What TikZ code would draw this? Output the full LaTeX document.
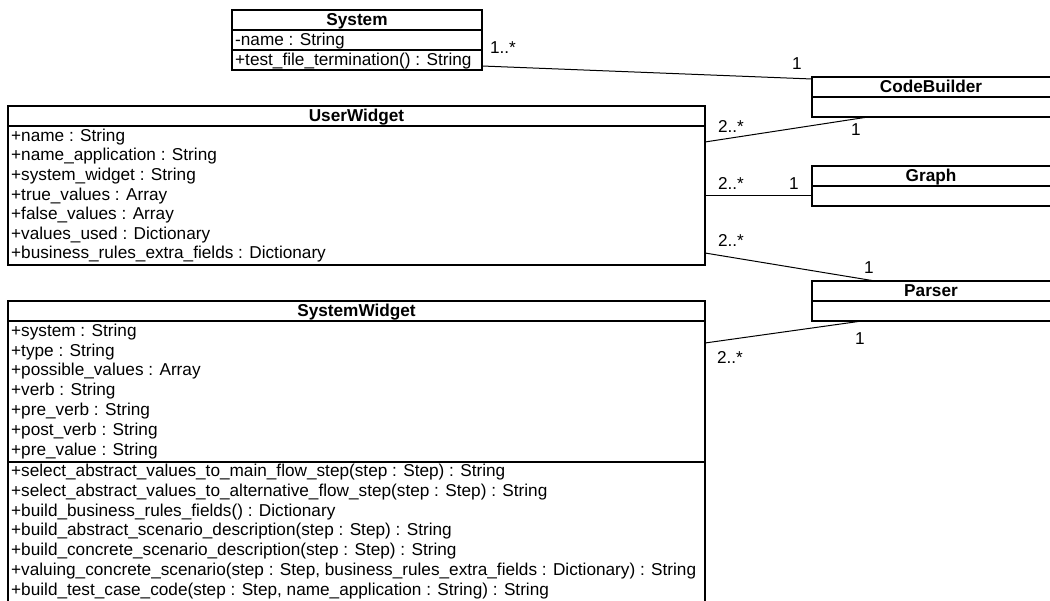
\documentclass[tikz,border=0pt]{standalone}
\usepackage{fontspec}
\setmainfont{Liberation Sans}
\begin{document}
\begin{tikzpicture}[x=1pt,y=-1pt,
  classbox/.style={draw, line width=1.1pt, inner sep=0pt, outer sep=0pt, anchor=north west},
  divider/.style={line width=1.1pt},
  assoc/.style={line width=1pt},
  member/.style={anchor=west, inner sep=0pt, font=\fontsize{17.2}{20}\selectfont, text height=12.3pt, text depth=1.5pt},
  title/.style={inner sep=0pt, font=\fontsize{17.2}{20}\selectfont\bfseries, text height=12.3pt, text depth=1.5pt},
  mult/.style={inner sep=0pt, font=\fontsize{17.2}{20}\selectfont, text height=12.3pt, text depth=1.5pt}]
\clip (0,0) rectangle (1050,601);
\fill[white] (0,0) rectangle (1050,601);

% System
\node[classbox, minimum width=250pt, minimum height=60pt] (system) at (232,10) {};
\draw[divider] (232,30) -- (482,30) (232,50) -- (482,50);
\node[title] (system-t) at (357,20) {System};
\node[member] (system-a1) at (235,40) {-name : String};
\node[member] (system-m1) at (235,60) {+test\_file\_termination() : String};

% UserWidget
\node[classbox, minimum width=697pt, minimum height=159pt] (uw) at (8,106) {};
\draw[divider] (8,126) -- (705,126);
\node[title] (uw-t) at (356.5,116) {UserWidget};
\foreach \txt [count=\i] in {+name : String, +name\_application : String, +system\_widget : String, +true\_values : Array, +false\_values : Array, +values\_used : Dictionary, +business\_rules\_extra\_fields : Dictionary}
  \node[member] (uw-a\i) at (11,{136+19.6*(\i-1)}) {\txt};

% SystemWidget
\node[classbox, minimum width=697pt, minimum height=320pt] (sw) at (8,301) {};
\draw[divider] (8,321) -- (705,321) (8,462) -- (705,462);
\node[title] (sw-t) at (356.5,311) {SystemWidget};
\foreach \txt [count=\i] in {+system : String, +type : String, +possible\_values : Array, +verb : String, +pre\_verb : String, +post\_verb : String, +pre\_value : String}
  \node[member] (sw-a\i) at (11,{331+19.8*(\i-1)}) {\txt};
\foreach \txt [count=\i] in {+select\_abstract\_values\_to\_main\_flow\_step(step : Step) : String,
  +select\_abstract\_values\_to\_alternative\_flow\_step(step : Step) : String,
  +build\_business\_rules\_fields() : Dictionary,
  +build\_abstract\_scenario\_description(step : Step) : String,
  +build\_concrete\_scenario\_description(step : Step) : String,
  +valuing\_concrete\_scenario(step : Step{,} business\_rules\_extra\_fields : Dictionary) : String,
  +build\_test\_case\_code(step : Step{,} name\_application : String) : String}
  \node[member] (sw-m\i) at (11,{471+19.8*(\i-1)}) {\txt};

% CodeBuilder, Graph, Parser
\node[classbox, minimum width=260pt, minimum height=40pt] (cb) at (812,77) {};
\draw[divider] (812,97) -- (1072,97);
\node[title] (cb-t) at (931,87) {CodeBuilder};
\node[classbox, minimum width=260pt, minimum height=40pt] (graph) at (812,166) {};
\draw[divider] (812,186) -- (1072,186);
\node[title] (graph-t) at (931,176) {Graph};
\node[classbox, minimum width=260pt, minimum height=40pt] (parser) at (812,281) {};
\draw[divider] (812,301) -- (1072,301);
\node[title] (parser-t) at (931,291) {Parser};

% connector end points on the class borders
\coordinate (sys-e) at (482,66);
\coordinate (cb-w) at (812,79);
\coordinate (uw-e1) at (705,142);
\coordinate (cb-s) at (868,117);
\coordinate (uw-e2) at (705,196);
\coordinate (graph-w) at (812,196);
\coordinate (uw-e3) at (705,253);
\coordinate (parser-n) at (875,281);
\coordinate (sw-e) at (705,343);
\coordinate (parser-s) at (862,321);

% associations
\draw[assoc] (sys-e) -- (cb-w);
\draw[assoc] (uw-e1) -- (cb-s);
\draw[assoc] (uw-e2) -- (graph-w);
\draw[assoc] (uw-e3) -- (parser-n);
\draw[assoc] (sw-e) -- (parser-s);

% multiplicities
\node[mult] (m1) at (503,48) {1..*};
\node[mult] (m2) at (797,64) {1};
\node[mult] (m3) at (731,127) {2..*};
\node[mult] (m4) at (856,130) {1};
\node[mult] (m5) at (731,184) {2..*};
\node[mult] (m6) at (794,184) {1};
\node[mult] (m7) at (731,241) {2..*};
\node[mult] (m8) at (869,268) {1};
\node[mult] (m9) at (860,339) {1};
\node[mult] (m10) at (730,358) {2..*};
\end{tikzpicture}
\end{document}
